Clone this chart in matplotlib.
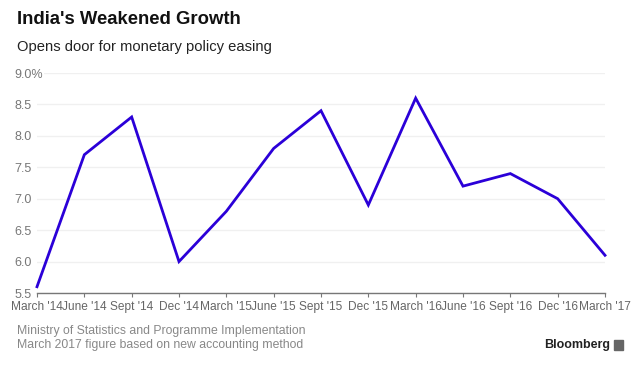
import matplotlib
matplotlib.use('Agg')
import matplotlib.pyplot as plt
from matplotlib.patches import Rectangle

plt.rcParams['font.family'] = ['Liberation Sans', 'DejaVu Sans']

quarters = ["March '14", "June '14", "Sept '14", "Dec '14", "March '15", "June '15",
            "Sept '15", "Dec '15", "March '16", "June '16", "Sept '16", "Dec '16", "March '17"]
growth = [5.6, 7.7, 8.3, 6.0, 6.8, 7.8, 8.4, 6.9, 8.6, 7.2, 7.4, 7.0, 6.1]
yticks = [5.5, 6.0, 6.5, 7.0, 7.5, 8.0, 8.5, 9.0]
ylabels = ["5.5", "6.0", "6.5", "7.0", "7.5", "8.0", "8.5", "9.0%"]

fig = plt.figure(figsize=(6.4, 3.68), dpi=100)
ax = fig.add_axes([37/640, 1 - 293/368, 568/640, 220/368])

x = list(range(len(quarters)))
ax.plot(x, growth, color='#2b00d8', lw=2, solid_joinstyle='miter', zorder=3, clip_on=False)

ax.set_xlim(0, len(quarters) - 1)
ax.set_ylim(5.5, 9.0)
ax.set_yticks(yticks)
ax.set_yticklabels(ylabels)
ax.set_xticks(x)
ax.set_xticklabels(quarters)
ax.grid(axis='y', color='#f0f0f0', lw=1)
ax.set_axisbelow(True)
for s in ['top', 'right', 'left']:
    ax.spines[s].set_visible(False)
ax.spines['bottom'].set_color('#777777')
ax.spines['bottom'].set_linewidth(1)
ax.tick_params(axis='y', length=0, pad=16.5, labelsize=9, labelcolor='#777777')
for t in ax.get_yticklabels():
    t.set_horizontalalignment('left')
ax.get_yticklabels()[-1].set_bbox(dict(facecolor='white', edgecolor='none', pad=1))
ax.tick_params(axis='x', length=3, color='#777777', pad=2.5, labelsize=8.6, labelcolor='#666666')

fig.text(17/640, 1 - 20/368, "India's Weakened Growth", fontsize=13.3, fontweight='bold',
         color='#111111', va='center')
fig.text(17/640, 1 - 47/368, "Opens door for monetary policy easing", fontsize=10.6,
         color='#222222', va='center')
fig.text(17/640, 1 - 331/368, "Ministry of Statistics and Programme Implementation",
         fontsize=8.8, color='#888888', va='center')
fig.text(17/640, 1 - 345/368, "March 2017 figure based on new accounting method",
         fontsize=8.8, color='#888888', va='center')
fig.text(610/640, 1 - 345/368, "Bloomberg", fontsize=9, fontweight='bold',
         color='#222222', va='center', ha='right')
fig.patches.append(Rectangle((614/640, 1 - 350/368), 9/640, 10/368,
                             transform=fig.transFigure, color='#666666'))

fig.savefig('out.png', dpi=100)
